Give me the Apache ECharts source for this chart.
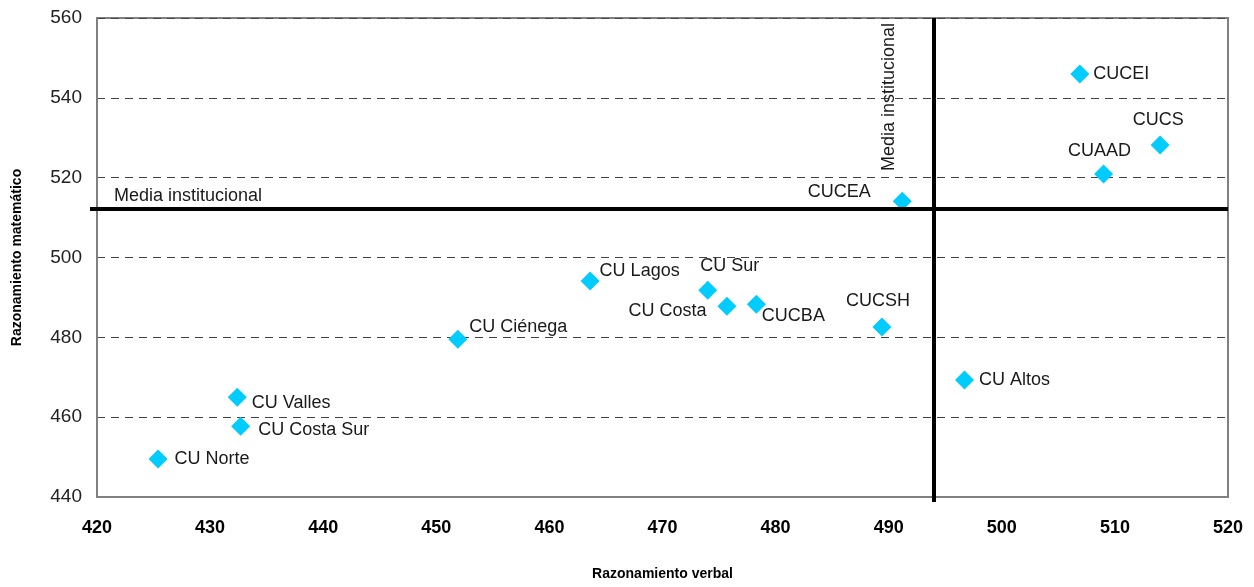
<!DOCTYPE html>
<html>
<head>
<meta charset="utf-8">
<script src="https://cdn.jsdelivr.net/npm/echarts@6/dist/echarts.min.js"></script>
<style>
  html, body { margin: 0; padding: 0; background: #fff; }
  #main { width: 1254px; height: 587px; }
</style>
</head>
<body>
<div id="main"></div>
<script>
// datos: centros universitarios
var centros = ["CUCEI", "CUCS", "CUAAD", "CUCEA", "CU Altos", "CUCSH", "CUCBA", "CU Costa", "CU Sur", "CU Lagos", "CU Ciénega", "CU Valles", "CU Costa Sur", "CU Norte"];
var verbal = [506.9, 514.0, 509.0, 491.2, 496.7, 489.4, 478.3, 475.7, 474.0, 463.6, 451.9, 432.4, 432.7, 425.4];
var matematico = [546.0, 528.2, 520.9, 514.1, 469.3, 482.6, 488.3, 487.8, 491.8, 494.1, 479.5, 465.0, 457.7, 449.5];
var mediaVerbal = 494.0;
var mediaMatematico = 512.1;

var xTicks = [420, 430, 440, 450, 460, 470, 480, 490, 500, 510, 520];
var yTicks = [440, 460, 480, 500, 520, 540, 560];

var FONT = "'Liberation Sans Narrow', 'Arial Narrow', 'Liberation Sans', Arial, sans-serif";

// donde va cada etiqueta
var etiquetas = {
  "CUCEI": { position: "right", distance: 4 },
  "CUCS": { position: "top", distance: 6, offset: [-2, 0] },
  "CUAAD": { position: "top", distance: 5, offset: [-4, 0] },
  "CUCEA": { position: "left", distance: 22, offset: [0, -9] },
  "CU Altos": { position: "right", distance: 5 },
  "CUCSH": { position: "top", distance: 7, offset: [-4, 0] },
  "CUCBA": { position: "right", distance: -4, offset: [0, 12] },
  "CU Costa": { position: "left", distance: 11, offset: [0, 5] },
  "CU Sur": { position: "top", distance: 6, offset: [22, 0] },
  "CU Lagos": { position: "right", distance: 0, offset: [0, -10] },
  "CU Ciénega": { position: "right", distance: 2, offset: [0, -12] },
  "CU Valles": { position: "right", distance: 5, offset: [0, 6] },
  "CU Costa Sur": { position: "right", distance: 8, offset: [0, 4] },
  "CU Norte": { position: "right", distance: 7 }
};

var puntos = centros.map(function (n, i) {
  var e = etiquetas[n];
  return {
    name: n,
    value: [verbal[i], matematico[i]],
    label: { position: e.position, distance: e.distance, offset: e.offset || [0, 0] }
  };
});

var myChart = echarts.init(document.getElementById("main"));
var option = {
  backgroundColor: "#fff",
  animation: false,
  grid: {
    left: 97, right: 26, top: 18, bottom: 90,
    show: true, borderColor: "#808080", borderWidth: 2, backgroundColor: "#fff"
  },
  xAxis: {
    type: "value",
    min: xTicks[0], max: xTicks[xTicks.length - 1], interval: 10,
    name: "Razonamiento verbal",
    nameLocation: "middle",
    nameGap: 70,
    nameTextStyle: { fontFamily: FONT, fontSize: 14, fontWeight: "bold", color: "#000" },
    axisLine: { show: true, lineStyle: { color: "#808080", width: 2 } },
    axisTick: { show: false },
    splitLine: { show: false },
    axisLabel: { fontFamily: FONT, fontSize: 18, fontWeight: "bold", color: "#000", margin: 22 }
  },
  yAxis: {
    type: "value",
    min: yTicks[0], max: yTicks[yTicks.length - 1], interval: 20,
    name: "Razonamiento matemático",
    nameLocation: "middle",
    nameGap: 73,
    nameTextStyle: { fontFamily: FONT, fontSize: 14, fontWeight: "bold", color: "#000" },
    axisLine: { show: true, lineStyle: { color: "#808080", width: 2 } },
    axisTick: { show: false },
    splitLine: { show: true, lineStyle: { color: "#444", type: [8, 6], width: 1 } },
    axisLabel: { fontFamily: FONT, fontSize: 19, color: "#222", margin: 15 }
  },
  series: [
    {
      type: "scatter",
      symbol: "diamond",
      symbolSize: 19,
      itemStyle: { color: "#00CCFF", opacity: 1 },
      label: {
        show: true,
        formatter: "{b}",
        fontFamily: FONT,
        fontSize: 18,
        color: "#1a1a1a"
      },
      data: puntos,
      markLine: {
        silent: true,
        symbol: "none",
        lineStyle: { color: "#000", width: 4, type: "solid" },
        label: {
          show: true,
          formatter: "Media institucional",
          fontFamily: FONT,
          fontSize: 18,
          color: "#1a1a1a"
        },
        data: [
          [
            { coord: [xTicks[0], mediaMatematico], x: 90 },
            { coord: [xTicks[xTicks.length - 1], mediaMatematico], label: { position: "insideStartTop", distance: 4, offset: [20, 0] } }
          ],
          [
            { coord: [mediaVerbal, yTicks[0]], y: 502 },
            { coord: [mediaVerbal, yTicks[yTicks.length - 1]], label: { position: "insideEndTop", distance: [5, 36] } }
          ]
        ]
      }
    }
  ]
};
myChart.setOption(option);
</script>
</body>
</html>
